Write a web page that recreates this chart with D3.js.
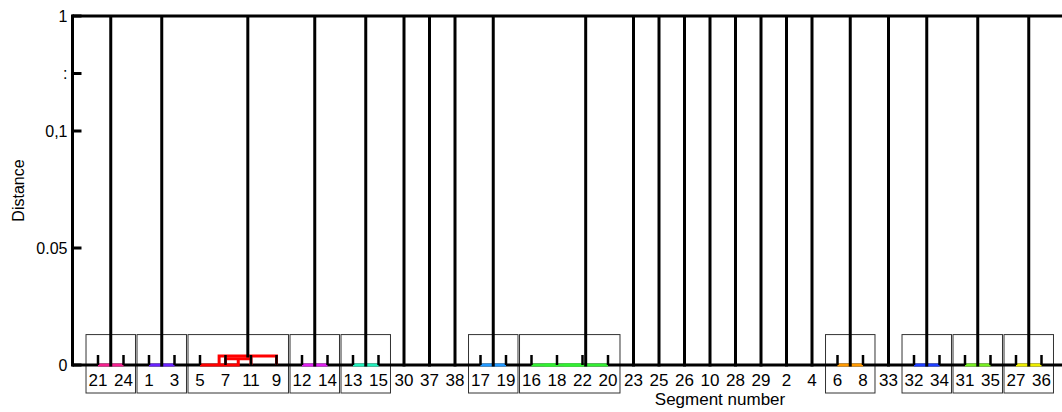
<!DOCTYPE html>
<html lang="en">
<head>
<meta charset="utf-8">
<script src="https://d3js.org/d3.v7.min.js"></script>
<title>Segment dendrogram</title>
<style>
  body { margin: 0; background: #fff; }
  text { font-family: "Liberation Sans", Arial, Helvetica, sans-serif; fill: #000; }
</style>
</head>
<body>
<script>
// leaf order along the x axis (segment numbers)
var leafLabels = [21,24,1,3,5,7,11,9,12,14,13,15,30,37,38,17,19,16,18,22,20,
                  23,25,26,10,28,29,2,4,6,8,33,32,34,31,35,27,36];

// merges, linkage style: [node a, node b, distance]
// node ids above 38 are earlier merges (39 = first row, 40 = second row ...)
var merges = [
  [21, 24, 0],
  [1, 3, 0],
  [7, 11, 0.0027],
  [5, 41, 0],
  [42, 9, 0.0038],
  [12, 14, 0],
  [13, 15, 0],
  [17, 19, 0],
  [16, 18, 0],
  [47, 22, 0],
  [48, 20, 0],
  [6, 8, 0],
  [32, 34, 0],
  [31, 35, 0],
  [27, 36, 0]
];

// every remaining cluster joins at this distance
var topDistance = 1;

// colours of the grouped clusters, left to right
var groupColors = ["#f5208f", "#6a22ff", "#ff0000", "#dd22ee", "#22eebb", "#2299ff",
                   "#33ee33", "#ff9900", "#1f3fff", "#77ee22", "#eeee00"];

var yTickValues = [0, 0.05, 0.1, 0.55, 1];
var yTickLabels = ["0", "0.05", "0,1", ":", "1"];

var width = 1062, height = 412;
var plotLeft = 72.5, plotTop = 16, base = 365;

var svg = d3.select("body").append("svg")
    .attr("width", width)
    .attr("height", height);

var n = leafLabels.length;
var x = d3.scaleLinear().domain([0, n + 1]).range([plotLeft, 1067]);
// broken axis: 0..0.1 linear, then squeezed up to 1
var y = d3.scaleLinear().domain([0, 0.1, 1]).range([base, 131, plotTop]);

// node positions
var pos = {}, hgt = {}, kids = {};
var lo = {}, hi = {};
leafLabels.forEach(function(l, i) { pos[l] = i + 1; hgt[l] = 0; lo[l] = i + 1; hi[l] = i + 1; });
merges.forEach(function(m, k) {
  var id = n + 1 + k;
  pos[id] = (pos[m[0]] + pos[m[1]]) / 2;
  hgt[id] = m[2];
  lo[id] = Math.min(lo[m[0]], lo[m[1]]);
  hi[id] = Math.max(hi[m[0]], hi[m[1]]);
  kids[m[0]] = id; kids[m[1]] = id;
});

// roots = clusters that only join at the top
var roots = [];
leafLabels.forEach(function(l) { if (!(l in kids)) roots.push(l); });
merges.forEach(function(m, k) { var id = n + 1 + k; if (!(id in kids)) roots.push(id); });
roots.sort(function(a, b) { return pos[a] - pos[b]; });
var groupRoots = roots.filter(function(r) { return r > n; });

function rootOf(id) { while (id in kids) id = kids[id]; return id; }
function colorOf(id) { return groupColors[groupRoots.indexOf(rootOf(id))]; }

// label boxes
svg.selectAll(".box")
  .data(groupRoots)
  .enter().append("rect")
    .attr("class", "box")
    .attr("x", function(r) { return x(lo[r] - 0.47); })
    .attr("width", function(r) { return x(hi[r] + 0.47) - x(lo[r] - 0.47); })
    .attr("y", y(0.013))
    .attr("height", base + 28 - y(0.013))
    .attr("fill", "none")
    .attr("stroke", "#333")
    .attr("stroke-width", 1);

// frame: left axis, bottom, top
var frame = svg.append("g").attr("stroke", "#000").attr("stroke-width", 3).attr("fill", "none");
frame.append("line").attr("x1", x(0)).attr("x2", x(0)).attr("y1", y(1) - 1.5).attr("y2", base + 1.5);
frame.append("line").attr("x1", x(0)).attr("x2", width).attr("y1", base).attr("y2", base);
frame.append("line").attr("x1", x(0)).attr("x2", width).attr("y1", y(topDistance)).attr("y2", y(topDistance));

// coloured links inside the groups
svg.selectAll(".link")
  .data(merges)
  .enter().append("path")
    .attr("class", "link")
    .attr("fill", "none")
    .attr("stroke-width", 3)
    .attr("stroke", function(m, k) { return colorOf(n + 1 + k); })
    .attr("d", function(m) {
      return "M" + x(pos[m[0]]) + "," + y(hgt[m[0]]) +
             "V" + y(m[2]) + "H" + x(pos[m[1]]) + "V" + y(hgt[m[1]]);
    });

// leaf stubs for grouped leaves
var grouped = leafLabels.filter(function(l) { return l in kids; });
svg.selectAll(".stub")
  .data(grouped)
  .enter().append("line")
    .attr("class", "stub")
    .attr("x1", function(l) { return x(pos[l]); })
    .attr("x2", function(l) { return x(pos[l]); })
    .attr("y1", base)
    .attr("y2", base - 10)
    .attr("stroke", "#000")
    .attr("stroke-width", 2.5);

// links up to the top
svg.selectAll(".up")
  .data(roots)
  .enter().append("line")
    .attr("class", "up")
    .attr("x1", function(r) { return x(pos[r]); })
    .attr("x2", function(r) { return x(pos[r]); })
    .attr("y1", function(r) { return y(hgt[r]) + 1.5; })
    .attr("y2", y(topDistance))
    .attr("stroke", "#000")
    .attr("stroke-width", 3);

// y ticks
var yt = svg.append("g");
yt.selectAll("line")
  .data(yTickValues)
  .enter().append("line")
    .attr("x1", x(0)).attr("x2", x(0) + 9)
    .attr("y1", function(d) { return y(d); })
    .attr("y2", function(d) { return y(d); })
    .attr("stroke", "#000").attr("stroke-width", 3);
yt.selectAll("text")
  .data(yTickValues)
  .enter().append("text")
    .attr("x", x(0) - 5)
    .attr("y", function(d) { return y(d); })
    .attr("dy", "0.36em")
    .attr("text-anchor", "end")
    .style("font-size", "16px")
    .text(function(d, i) { return yTickLabels[i]; });

// x tick labels
svg.selectAll(".xl")
  .data(leafLabels)
  .enter().append("text")
    .attr("class", "xl")
    .attr("x", function(l) { return x(pos[l]); })
    .attr("y", base + 21)
    .attr("text-anchor", "middle")
    .style("font-size", "17px")
    .text(function(l) { return l; });

// axis titles
svg.append("text")
  .attr("x", 720).attr("y", 405)
  .attr("text-anchor", "middle")
  .style("font-size", "17px")
  .text("Segment number");

svg.append("text")
  .attr("transform", "translate(24," + (y(0) + y(1)) / 2 + ") rotate(-90)")
  .attr("text-anchor", "middle")
  .style("font-size", "16px")
  .text("Distance");
</script>
</body>
</html>
